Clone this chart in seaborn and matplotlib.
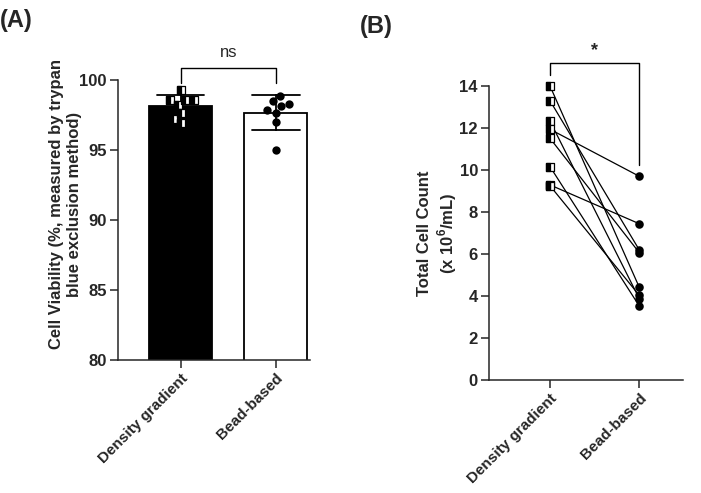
import numpy as np
import pandas as pd
import matplotlib
matplotlib.use("Agg")
import matplotlib.pyplot as plt
from matplotlib.markers import MarkerStyle
import seaborn as sns

# ---------------- data ----------------
cats = ["Density gradient", "Bead-based"]
viab_density = [99.29, 98.57, 98.57, 98.57, 98.21, 97.62, 97.21, 96.90]
viab_bead = [98.88, 98.52, 98.29, 98.17, 97.86, 97.67, 96.98, 95.00]
count_density = [14.0, 13.3, 12.33, 11.94, 11.51, 10.16, 9.29, 9.25]
count_bead = [4.41, 6.19, 3.87, 9.70, 6.06, 3.52, 7.44, 4.03]
viab_ticks = [80, 85, 90, 95, 100]
count_ticks = [0, 2, 4, 6, 8, 10, 12, 14]

sns.set_style("ticks")
plt.rcParams["font.family"] = ["Liberation Sans", "DejaVu Sans"]
plt.rcParams["mathtext.fontset"] = "custom"
plt.rcParams["mathtext.rm"] = "Liberation Sans"
plt.rcParams["mathtext.bf"] = "Liberation Sans:bold"
plt.rcParams["axes.linewidth"] = 1.1

FS = 12

fig = plt.figure(figsize=(7.01, 4.93), dpi=100)
axA = fig.add_axes([118 / 701, 1 - 360 / 493, 192 / 701, 280 / 493])
axB = fig.add_axes([489 / 701, 1 - 380 / 493, 194 / 701, 294 / 493])

half_sq = MarkerStyle("s", fillstyle="left")

# ---------------- panel A ----------------
dfA = pd.DataFrame({
    "method": [cats[0]] * len(viab_density) + [cats[1]] * len(viab_bead),
    "viability": viab_density + viab_bead,
})
sns.barplot(data=dfA, x="method", y="viability", order=cats, hue="method",
            hue_order=cats, palette=["black", "white"], legend=False,
            edgecolor="black", linewidth=1.3, width=0.66, errorbar="sd",
            capsize=0.5, err_kws={"color": "black", "linewidth": 1.3}, ax=axA)
dA_den = dfA[dfA.method == cats[0]]
dA_bead = dfA[dfA.method == cats[1]]
sns.swarmplot(data=dA_bead, x="method", y="viability", order=cats, color="black",
              marker="o", size=6.0, ax=axA, zorder=4)
sns.swarmplot(data=dA_den, x="method", y="viability", order=cats, color="white",
              edgecolor="black", linewidth=0.9, marker="s", size=5.4, ax=axA, zorder=4)
sns.swarmplot(data=dA_den, x="method", y="viability", order=cats, color="black",
              edgecolor="black", linewidth=0.9, marker=half_sq, size=5.4, ax=axA, zorder=5)

axA.set_ylim(80, 100)
axA.set_xlim(-0.66, 1.36)
axA.set_yticks(viab_ticks)
axA.set_xlabel("")
axA.set_ylabel("Cell Viability (%, measured by trypan\nblue exclusion method)",
               fontsize=FS, fontweight="bold")
axA.yaxis.set_label_coords(-0.19, 0.557)
axA.plot([0, 0, 1, 1], [99.76, 100.84, 100.84, 99.76], color="black", lw=1,
         clip_on=False)
axA.text(0.5, 101.45, "ns", ha="center", va="bottom", fontsize=12)

# ---------------- panel B ----------------
n = len(count_density)
dfB = pd.DataFrame({
    "subject": list(range(n)) * 2,
    "method": [cats[0]] * n + [cats[1]] * n,
    "count": count_density + count_bead,
})
sns.lineplot(data=dfB, x="method", y="count", units="subject", estimator=None,
             sort=False, color="black", lw=0.9, ax=axB)
dB_den = dfB[dfB.method == cats[0]]
dB_bead = dfB[dfB.method == cats[1]]
sns.scatterplot(data=dB_bead, x="method", y="count", color="black", marker="o",
                s=38, edgecolor="black", linewidth=0, ax=axB, zorder=4, clip_on=False)
sns.scatterplot(data=dB_den, x="method", y="count", color="white", marker="s",
                s=32, edgecolor="black", linewidth=0.9, ax=axB, zorder=4, clip_on=False)
sns.scatterplot(data=dB_den, x="method", y="count", color="black", marker=half_sq,
                s=32, edgecolor="black", linewidth=0.9, ax=axB, zorder=5, clip_on=False)

axB.set_ylim(0, 14)
axB.set_xlim(-0.683, 1.489)
axB.set_yticks(count_ticks)
axB.set_xticks([0, 1])
axB.set_xticklabels(cats)
axB.set_xlabel("")
axB.set_ylabel("Total Cell Count\n(x 10$^{\\mathbf{6}}$/mL)", fontsize=FS,
               fontweight="bold")
axB.yaxis.set_label_coords(-0.155, 0.5)
axB.plot([0, 0, 1, 1], [14.52, 15.08, 15.08, 10.24], color="black", lw=1,
         clip_on=False)
axB.text(0.5, 15.3, "*", ha="center", va="bottom", fontsize=13, fontweight="bold")

for ax in (axA, axB):
    sns.despine(ax=ax)
    ax.tick_params(direction="out", length=6, width=1.1, labelsize=FS, pad=2)
    for lab in ax.get_yticklabels():
        lab.set_fontweight("bold")
    for lab in ax.get_xticklabels():
        lab.set_fontweight("bold")
        lab.set_fontsize(11)
        lab.set_rotation(45)
        lab.set_ha("right")
        lab.set_rotation_mode("anchor")

fig.text(0.0, 1 - 21 / 493, "(A)", fontsize=17, fontweight="bold", va="center")
fig.text(360 / 701, 1 - 26 / 493, "(B)", fontsize=17, fontweight="bold", va="center")

fig.savefig("out.png", dpi=100)
